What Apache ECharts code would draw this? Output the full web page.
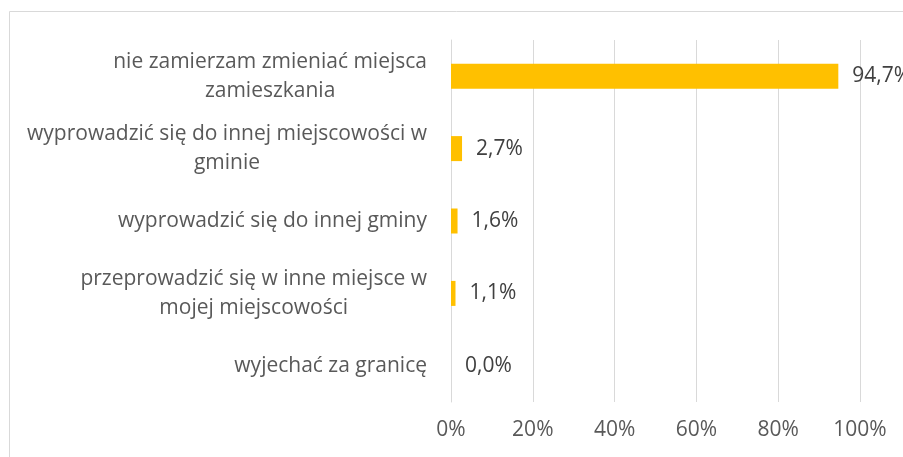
<!DOCTYPE html>
<html lang="pl">
<head>
    <meta charset="UTF-8">
    <title>plany zamieszkania</title>
    <script src="https://cdn.jsdelivr.net/npm/echarts@6/dist/echarts.min.js"></script>
    <style>
        body { margin: 0; background: #fff; }
        #main { width: 903px; height: 457px; }
    </style>
</head>
<body>
<div id="main"></div>
<script>
    // kategorie (od góry) i wartości w %
    let categories = [
        'nie zamierzam zmieniać miejsca\nzamieszkania',
        'wyprowadzić się do innej miejscowości w\ngminie',
        'wyprowadzić się do innej gminy',
        'przeprowadzić się w inne miejsce w\nmojej miejscowości',
        'wyjechać za granicę'
    ];
    let values = [94.7, 2.7, 1.6, 1.1, 0.0];
    let xTicks = [0, 20, 40, 60, 80, 100];

    let font = '"Open Sans", sans-serif';
    let fs = 21;
    let myChart = echarts.init(document.getElementById('main'));
    let option = {
        animation: false,
        graphic: [{
            type: 'rect',
            shape: { x: 9.5, y: 11.5, width: 1000, height: 1000 },
            style: { fill: 'none', stroke: '#d9d9d9', lineWidth: 1 }
        }],
        grid: { left: 451, right: 43, top: 40, bottom: 55 },
        xAxis: {
            type: 'value',
            min: xTicks[0],
            max: xTicks[xTicks.length - 1],
            interval: 20,
            axisLine: { show: false },
            axisTick: { show: false },
            splitLine: { lineStyle: { color: '#d9d9d9', width: 1 } },
            axisLabel: {
                margin: 18,
                color: '#595959',
                fontFamily: font,
                fontSize: fs,
                formatter: v => v + '%'
            }
        },
        yAxis: {
            type: 'category',
            inverse: true,
            data: categories,
            axisLine: { show: true, lineStyle: { color: '#d9d9d9', width: 1 } },
            axisTick: { show: false },
            axisLabel: {
                margin: 24,
                color: '#595959',
                fontFamily: font,
                fontSize: fs,
                lineHeight: 29,
                // każda linia wyśrodkowana w bloku
                formatter: v => v.split('\n').map(s => '{c|' + s + '}').join('\n'),
                rich: { c: { align: 'center', fontFamily: font, fontSize: fs, color: '#595959', lineHeight: 29 } }
            }
        },
        series: [{
            type: 'bar',
            data: values,
            barWidth: 25,
            itemStyle: { color: '#ffc000' },
            label: {
                show: true,
                position: 'right',
                distance: 14,
                color: '#404040',
                fontFamily: font,
                fontSize: fs,
                formatter: p => p.value.toFixed(1).replace('.', ',') + '%'
            }
        }]
    };
    myChart.setOption(option);
</script>
</body>
</html>
